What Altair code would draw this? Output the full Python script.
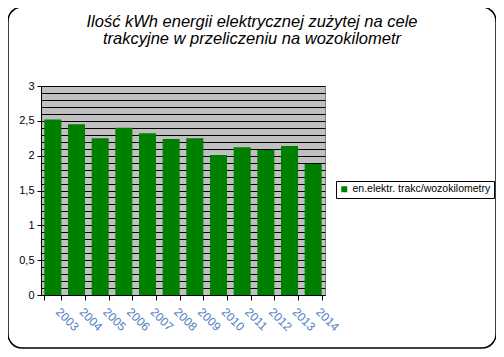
import altair as alt
import pandas as pd

years = ["2003", "2004", "2005", "2006", "2007", "2008", "2009", "2010", "2011", "2012", "2013", "2014"]
values = [2.52, 2.45, 2.25, 2.40, 2.32, 2.24, 2.25, 2.01, 2.12, 2.08, 2.14, 1.88]
series_name = "en.elektr. trakc/wozokilometry"
title_lines = ["Ilość kWh energii elektrycznej zużytej na cele",
               "trakcyjne w przeliczeniu na wozokilometr"]
grid_values = [round(i * 0.1, 1) for i in range(31)]

df = pd.DataFrame({"rok": years, "wartosc": values, "seria": series_name})

FONT = "Liberation Sans"

bars = alt.Chart(df).mark_bar(color="#008000").encode(
    x=alt.X("rok:N", sort=years, title=None,
            scale=alt.Scale(paddingInner=0.28, paddingOuter=0.14),
            axis=alt.Axis(labelAngle=45, labelAlign="left", labelBaseline="top",
                          labelColor="#4F7FBF", labelFontSize=12, labelFont=FONT,
                          labelPadding=6, labelOffset=8, tickBand="extent", tickColor="black",
                          tickSize=5, domainColor="black", grid=False)),
    y=alt.Y("wartosc:Q", title=None,
            scale=alt.Scale(domain=[0, 3], nice=False),
            axis=alt.Axis(values=grid_values,
                          labelExpr="(abs(round(datum.value*10)) % 5 == 0) ? replace(format(datum.value, '.1~f'), '.', ',') : ''",
                          tickSize={"condition": {"test": "abs(round(datum.value*10)) % 5 == 0", "value": 4}, "value": 0},
                          tickColor="black", domainColor="black",
                          labelFontSize=11, labelFont=FONT, labelColor="black",
                          labelPadding=3, grid=True, gridColor="black", gridWidth=1,
                          gridOpacity=1)),
    fill=alt.Fill("seria:N", scale=alt.Scale(range=["#008000"]),
                  legend=alt.Legend(title=None, orient="none", legendX=295, legendY=95,
                                    strokeColor="black", fillColor="white", padding=3,
                                    symbolType="square", symbolSize=36,
                                    symbolStrokeWidth=0, labelOffset=3,
                                    labelFontSize=10.5, labelFont=FONT, labelColor="black")),
)

frame = alt.Chart(alt.Data(values=[{"a": 1}])).mark_rect(
    fill=None, stroke="black", strokeWidth=1.5, cornerRadius=14
).encode(x=alt.value(-33), x2=alt.value(455), y=alt.value(-79), y2=alt.value(262))

chart = alt.layer(frame, bars).properties(
    width=284, height=209,
    autosize=alt.AutoSizeParams(type="none"),
    padding={"left": 33, "top": 78, "right": 171, "bottom": 54},
    title=alt.TitleParams(text=title_lines, font=FONT, fontSize=16.5, fontStyle="italic",
                          fontWeight="normal", anchor="middle", dx=69, offset=-57,
                          baseline="bottom", lineHeight=17, color="black"),
).configure_view(fill="#C0C0C0", stroke="#808080")

chart.save("out.html", embed_options={"renderer": "svg", "actions": False})
